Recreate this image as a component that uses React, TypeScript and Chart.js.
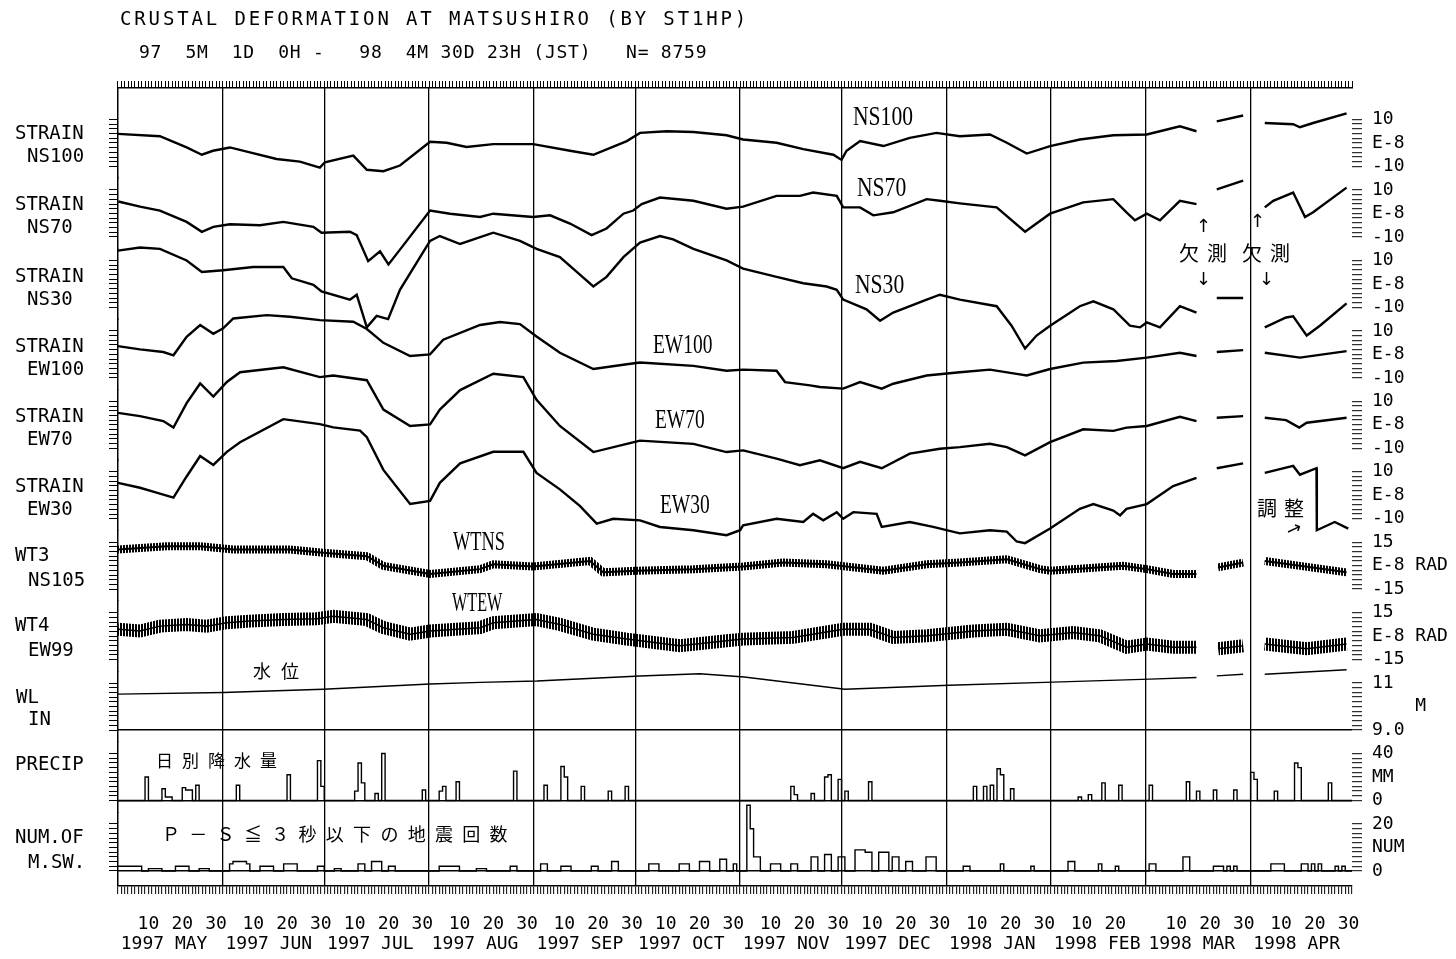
import React, { useEffect, useRef } from 'react';
import { Chart, registerables } from 'chart.js';

Chart.register(...registerables);

// ---------- time axis: days since 1997-05-01 00h (JST) ----------
const monthStartDays = [0, 31, 61, 92, 123, 153, 184, 214, 245, 276, 304, 335, 365];
const monthLabels = ['1997 MAY', '1997 JUN', '1997 JUL', '1997 AUG', '1997 SEP', '1997 OCT', '1997 NOV', '1997 DEC', '1998 JAN', '1998 FEB', '1998 MAR', '1998 APR'];
const dayOfMonthTicks = [10, 20, 30];

// ---------- strain (E-8) ----------
const ns100Days = [0, 12.4, 20.3, 24.8, 28.1, 33.1, 39.0, 46.9, 53.8, 59.7, 61.2, 69.6, 73.6, 78.5, 83.4, 92.3, 97.2, 103.1, 111.0, 122.8, 133.7, 140.6, 150.5, 154.4, 162.3, 170.2, 180.0, 184.9, 194.8, 202.7, 211.6, 214.0, 215.5, 219.5, 226.4, 234.2, 242.1, 249.0, 257.9, 262.9, 268.8, 275.7, 284.5, 294.4, 304.3, 314.1, 319.0, 322, 325.0, 332.8, 336, 339.2, 347.6, 349.6, 353.5, 363.4];
const ns100Vals = [3.9, 2.9, -1.9, -5.0, -3.3, -1.9, -4.0, -6.8, -7.9, -10.5, -8.2, -5.4, -11.4, -12.0, -9.6, 0.5, 0.1, -1.7, -0.5, -0.5, -3.3, -5.0, 0.8, 4.3, 5.0, 4.7, 3.3, 1.5, 0.1, -2.6, -5.0, -7.2, -3.3, 0.8, -1.3, 2.2, 4.3, 2.9, 3.6, 0.1, -4.5, -1.3, 1.5, 3.3, 3.6, 7.1, 5.0, null, 9.2, 11.7, null, 8.5, 8.0, 6.7, 8.5, 12.6];

const ns70Days = [0.1, 6.5, 12.4, 20.3, 24.8, 28.2, 33.1, 42.0, 48.9, 57.8, 60.2, 68.6, 70.6, 74.0, 77.5, 80.0, 83.4, 92.3, 98.2, 107.1, 111.0, 122.8, 127.8, 133.7, 140.1, 144.5, 149.5, 152.4, 154.9, 160.3, 170.2, 180.0, 184.9, 194.8, 201.7, 205.6, 212.6, 214.5, 219.5, 223.4, 229.3, 239.2, 243.1, 249.0, 259.9, 268.3, 275.7, 285.5, 294.4, 298.3, 300.8, 304.3, 308.2, 314.1, 319.0, 322, 325.0, 332.8, 336, 339.2, 341.7, 347.6, 351.1, 353.5, 363.4];
const ns70Vals = [5.1, 2.9, 1.25, -3.6, -7.8, -5.7, -4.6, -5.0, -3.6, -5.7, -8.2, -7.8, -9.2, -20.3, -16.1, -21.7, -15.4, 1.25, -0.1, -1.5, -0.1, -1.5, -0.8, -4.3, -9.2, -6.4, -0.1, 1.25, 4.0, 6.8, 5.4, 2.0, 2.9, 7.5, 7.5, 8.9, 7.5, 2.6, 2.6, -0.8, 0.5, 6.1, 5.4, 4.3, 2.6, -7.8, -0.1, 4.7, 6.1, 0.5, -2.9, -0.1, -2.9, 5.4, 4.0, null, 10.3, 14.0, null, 2.6, 5.4, 8.9, -1.5, 0.5, 11.0];

const ns30Days = [0, 6.5, 12.4, 20.3, 24.8, 31.1, 40.0, 48.9, 51.4, 57.8, 60.2, 68.6, 70.6, 73.6, 76.5, 79.9, 83.4, 92.3, 95.2, 101.2, 111.0, 118.9, 123.8, 130.7, 135.7, 140.6, 144.5, 149.5, 154.4, 160.3, 164.2, 170.2, 180.0, 184.9, 194.8, 202.7, 209.6, 212.6, 214.5, 221.4, 225.4, 229.3, 239.2, 243.1, 249.0, 259.9, 264.3, 268.3, 271.7, 275.7, 284.5, 288.5, 294.4, 299.3, 302.3, 304.3, 308.2, 314.1, 319.0, 322, 325.0, 332.8, 336, 339.2, 345.5, 347.6, 351.6, 355.5, 363.4];
const ns30Vals = [14.2, 15.5, 14.9, 10.0, 5.1, 5.8, 7.2, 7.2, 2.4, -0.4, -3.2, -6.7, -4.6, -18.5, -13.6, -15.0, -2.5, 18.3, 20.4, 17.0, 21.8, 18.3, 14.9, 11.4, 5.1, -1.1, 3.0, 11.4, 17.6, 20.4, 19.0, 14.9, 10.0, 6.5, 3.0, 0.3, -1.1, -2.5, -6.7, -10.8, -15.7, -12.2, -6.7, -4.6, -6.7, -9.5, -17.8, -27.5, -22.0, -17.8, -9.5, -7.4, -10.8, -17.8, -18.5, -16.4, -18.5, -9.5, -12.2, null, -6.0, -6.0, null, -18.5, -14.3, -13.8, -22.0, -17.8, -8.3];

const ew100Days = [0, 6.5, 13.4, 16.4, 20.3, 24.3, 28.2, 31.1, 34.1, 44.0, 50.9, 59.7, 69.6, 73.6, 78.5, 86.4, 92.3, 96.2, 107.1, 113.0, 118.9, 123.8, 130.7, 140.6, 150.5, 154.4, 170.2, 180.0, 184.9, 194.8, 197.3, 204.7, 207.6, 214.5, 219.5, 225.9, 229.3, 239.2, 249.0, 257.9, 265.8, 268.8, 275.7, 285.5, 295.4, 304.3, 314.1, 319.0, 322, 325.0, 332.8, 336, 339.2, 349.6, 363.4];
const ew100Vals = [3.5, 2.1, 1.0, -0.4, 7.5, 12.5, 8.75, 11.1, 15.3, 16.7, 16.0, 14.6, 13.9, 10.8, 4.9, -0.7, 0, 6.25, 12.5, 13.75, 12.9, 7.6, 0.7, -6.25, -4.2, -3.5, -4.9, -7.0, -6.5, -7.0, -11.8, -13.2, -13.9, -14.6, -11.8, -14.6, -12.5, -9.0, -7.6, -6.5, -8.3, -9.0, -6.25, -3.5, -2.8, -1.4, 0.7, -0.7, null, 1.0, 1.8, null, 0.7, -1.4, 1.4];

const ew70Days = [0, 6.5, 13.4, 16.4, 20.3, 24.3, 28.2, 32.2, 36.1, 48.9, 59.7, 63.7, 73.6, 78.5, 86.4, 92.3, 95.2, 101.2, 111.0, 119.9, 123.8, 130.7, 140.6, 150.5, 154.4, 170.2, 180.0, 184.9, 194.8, 201.7, 207.6, 214.5, 219.5, 225.9, 234.2, 243.1, 249.0, 257.9, 262.9, 268.3, 275.7, 285.5, 294.4, 298.3, 304.3, 314.1, 319.0, 322, 325.0, 332.8, 336, 339.2, 345.5, 349.4, 351.6, 363.4];
const ew70Vals = [5.1, 3.7, 1.6, -1.2, 9.25, 17.6, 12.0, 18.25, 22.4, 24.5, 20.3, 21.0, 19.0, 6.5, -0.5, 0.2, 6.5, 14.8, 21.75, 20.3, 10.6, -0.5, -11.6, -8.1, -6.75, -8.1, -11.6, -10.9, -14.4, -17.2, -15.1, -18.5, -15.75, -18.5, -12.3, -10.2, -9.5, -8.1, -9.5, -13.0, -7.4, -1.9, -2.6, -1.2, -0.5, 3.4, 1.6, null, 3.0, 3.7, null, 3.0, 2.0, -1.2, 0.9, 3.0];

const ew30Days = [0, 6.5, 11.4, 16.4, 20.3, 24.3, 28.2, 32.2, 36.1, 48.9, 59.7, 63.7, 71.6, 73.6, 78.5, 86.4, 92.3, 95.2, 101.2, 111.0, 119.9, 123.8, 130.7, 136.6, 141.6, 146.5, 154.4, 160.3, 170.2, 180.0, 184.0, 184.9, 194.8, 202.7, 205.6, 208.6, 212.6, 214.5, 217.5, 224.4, 225.9, 234.2, 241.1, 249.0, 257.9, 262.9, 265.8, 268.3, 275.7, 284.5, 288.5, 294.4, 296.4, 298.3, 304.3, 312.1, 319.0, 322, 325.0, 332.8, 336, 339.2, 347.6, 349.6, 354.5, 354.6, 359.9, 363.9];
const ew30Vals = [5.3, 3.2, 1.1, -1.0, 8.0, 16.7, 12.9, 18.5, 22.6, 32.4, 30.3, 28.9, 27.5, 24.7, 10.8, -3.75, -2.4, 5.3, 13.6, 18.5, 18.5, 9.5, 2.5, -4.5, -12.1, -10.0, -10.7, -13.5, -14.9, -17.0, -14.9, -12.8, -10.0, -11.4, -7.9, -10.7, -7.2, -10.0, -7.2, -7.9, -13.5, -11.4, -13.5, -16.25, -14.9, -15.5, -19.7, -20.4, -14.2, -5.8, -3.75, -6.5, -8.6, -5.8, -3.75, 3.9, 7.4, null, 11.5, 13.6, null, 9.5, 12.5, 8.75, 11.5, -14.9, -11.4, -14.2];

// ---------- tilt (E-8 RAD) ----------
const wt3Days = [0, 14.4, 24.3, 34.1, 50.9, 60.7, 73.6, 78.5, 92.3, 107.1, 111.0, 122.8, 139.6, 143.5, 153.4, 170.2, 184.9, 196.7, 209.6, 226.4, 239.2, 249.0, 262.9, 272.7, 275.7, 297.3, 304.3, 312.1, 319.0, 322, 325.4, 332.8, 336, 339.2, 349.6, 363.4];
const wt3Vals = [10.3, 12.4, 12.4, 10.3, 10.3, 8.25, 6.1, -0.1, -5.3, -2.2, 0.9, -0.5, 3.0, -4.25, -3.25, -2.2, -0.5, 2.0, 0.9, -3.25, 0.9, 2.0, 4.1, -2.2, -3.25, -0.1, -2.2, -5.3, -5.3, null, -1.1, 2.0, null, 3.0, -0.1, -4.25];

const wt4Days = [0, 6.5, 12.4, 20.3, 26.2, 32.2, 39.0, 48.9, 58.8, 63.7, 73.6, 78.5, 86.4, 92.3, 107.1, 111.0, 123.8, 130.7, 140.6, 150.5, 166.2, 180.0, 184.9, 199.7, 214.5, 222.4, 229.3, 239.2, 253.0, 262.9, 272.7, 282.5, 290.4, 298.3, 304.3, 312.1, 319.0, 322, 325.4, 332.8, 336, 339.2, 351.6, 363.4];
const wt4Vals = [4.4, 3.3, 6.4, 7.5, 6.4, 8.6, 9.6, 10.6, 11.1, 12.7, 10.6, 5.4, 1.25, 3.3, 5.4, 8.6, 10.6, 7.5, 1.25, -1.9, -6.1, -2.9, -1.9, -0.8, 4.4, 4.4, -0.8, 0.2, 3.3, 4.4, 0.2, 2.3, 0.2, -7.1, -5.0, -7.1, -7.1, null, -8.1, -6.1, null, -5.0, -8.1, -5.0];

// ---------- water level (M) ----------
const wlDays = [0, 31.1, 60.7, 92.3, 107.1, 123.9, 154.4, 172.1, 185.2, 215.0, 245.8, 276.5, 305.2, 319.0, 322, 325.0, 332.8, 336, 339.2, 363.4];
const wlVals = [10.53, 10.60, 10.74, 10.96, 11.03, 11.09, 11.30, 11.40, 11.26, 10.74, 10.91, 11.04, 11.17, 11.24, null, 11.31, 11.38, null, 11.38, 11.57];

// ---------- daily precipitation (MM), days with rain ----------
const precipDays = [8, 13, 14, 15, 19, 20, 21, 23, 35, 50, 59, 60, 70, 71, 72, 76, 78, 90, 95, 96, 100, 117, 126, 131, 132, 137, 145, 150, 199, 200, 205, 209, 210, 213, 215, 222, 253, 256, 258, 260, 261, 264, 284, 287, 291, 296, 305, 316, 319, 324, 330, 335, 336, 342, 348, 349, 358];
const precipMM = [20, 10, 3, 3, 11, 9, 9, 13, 13, 22, 34, 12, 8, 32, 15, 6, 40, 9, 8, 12, 16, 25, 13, 29, 20, 12, 8, 12, 12, 5, 6, 20, 22, 18, 8, 16, 12, 12, 13, 27, 22, 10, 3, 5, 15, 13, 13, 16, 8, 9, 9, 24, 18, 8, 32, 28, 15];

// ---------- daily number of micro earthquakes (S-P <= 3 s) ----------
const quakeDays = [0, 1, 2, 3, 4, 5, 6, 9, 10, 11, 12, 17, 18, 19, 20, 24, 25, 26, 33, 34, 35, 36, 37, 38, 42, 43, 44, 45, 49, 50, 51, 52, 59, 60, 64, 65, 71, 72, 75, 76, 77, 80, 81, 95, 96, 97, 98, 99, 100, 106, 107, 108, 116, 117, 125, 126, 131, 132, 133, 140, 141, 146, 147, 157, 158, 159, 166, 167, 168, 172, 173, 174, 178, 179, 182, 186, 187, 188, 189, 193, 194, 195, 199, 200, 205, 206, 209, 210, 213, 214, 218, 219, 220, 221, 222, 225, 226, 227, 229, 230, 233, 234, 239, 240, 241, 250, 251, 261, 270, 281, 282, 290, 295, 305, 306, 315, 316, 324, 325, 326, 328, 330, 341, 342, 343, 344, 350, 351, 353, 355, 360, 362];
const quakeCounts = [2, 2, 2, 2, 2, 2, 2, 1, 1, 1, 1, 2, 2, 2, 2, 1, 1, 1, 3, 4, 4, 4, 4, 3, 2, 2, 2, 2, 3, 3, 3, 3, 2, 2, 1, 1, 3, 3, 4, 4, 4, 2, 2, 2, 2, 2, 2, 2, 2, 1, 1, 1, 2, 2, 3, 3, 2, 2, 2, 2, 2, 4, 4, 3, 3, 3, 3, 3, 3, 4, 4, 4, 5, 5, 3, 28, 18, 6, 6, 3, 3, 3, 3, 3, 6, 6, 7, 7, 6, 6, 9, 9, 9, 8, 8, 8, 8, 8, 6, 6, 4, 4, 6, 6, 6, 2, 2, 3, 2, 4, 4, 3, 2, 3, 3, 6, 6, 2, 2, 2, 2, 2, 3, 3, 3, 3, 3, 3, 3, 3, 2, 2];

// ---------- panel geometry (right-hand scale annotations) ----------
type Panel = { id: string; min: number; max: number; weight: number; tickFrom: number; tickTo: number; tickStep: number; labels: [number, string][]; base?: number };
const panels: Panel[] = [
  { id: 'p0', min: -15, max: 23.4, weight: 90.25, tickFrom: -10, tickTo: 10, tickStep: 2, labels: [[10, '10'], [0, 'E-8'], [-10, '-10']] },
  { id: 'p1', min: -15, max: 15, weight: 70.45, tickFrom: -10, tickTo: 10, tickStep: 2, labels: [[10, '10'], [0, 'E-8'], [-10, '-10']] },
  { id: 'p2', min: -15, max: 15, weight: 70.45, tickFrom: -10, tickTo: 10, tickStep: 2, labels: [[10, '10'], [0, 'E-8'], [-10, '-10']] },
  { id: 'p3', min: -15, max: 15, weight: 70.45, tickFrom: -10, tickTo: 10, tickStep: 2, labels: [[10, '10'], [0, 'E-8'], [-10, '-10']] },
  { id: 'p4', min: -15, max: 15, weight: 70.45, tickFrom: -10, tickTo: 10, tickStep: 2, labels: [[10, '10'], [0, 'E-8'], [-10, '-10']] },
  { id: 'p5', min: -15, max: 15, weight: 70.45, tickFrom: -10, tickTo: 10, tickStep: 2, labels: [[10, '10'], [0, 'E-8'], [-10, '-10']] },
  { id: 'p6', min: -22.5, max: 22.5, weight: 70.45, tickFrom: -15, tickTo: 15, tickStep: 3, labels: [[15, '15'], [0, 'E-8 RAD'], [-15, '-15']] },
  { id: 'p7', min: -22.5, max: 22.5, weight: 70.45, tickFrom: -15, tickTo: 15, tickStep: 3, labels: [[15, '15'], [0, 'E-8 RAD'], [-15, '-15']] },
  { id: 'p8', min: 8.5, max: 11.5, weight: 70.45, tickFrom: 9, tickTo: 11, tickStep: 0.2, labels: [[11, '11'], [10, '    M'], [9, '9.0']], base: 9 },
  { id: 'p9', min: -10, max: 50, weight: 70.45, tickFrom: 0, tickTo: 40, tickStep: 4, labels: [[40, '40'], [20, 'MM'], [0, '0']], base: 0 },
  { id: 'p10', min: -6.4, max: 25, weight: 73.75, tickFrom: 0, tickTo: 20, tickStep: 2, labels: [[20, '20'], [10, 'NUM'], [0, '0']], base: 0 },
];

const MONO = '"DejaVu Sans Mono", "Liberation Mono", monospace';
const SERIF = '"Liberation Serif", "DejaVu Serif", serif';
const CJK = '"Noto Sans CJK JP", "Noto Sans CJK SC", sans-serif';

type Txt = { t: string; x: number; y: number; size: number; font: string; ls?: number; sx?: number; rot?: number };
const texts: Txt[] = [
  { t: 'CRUSTAL DEFORMATION AT MATSUSHIRO (BY ST1HP)', x: 120, y: 18.5, size: 19, font: MONO, ls: 2.86 },
  { t: '97  5M  1D  0H -   98  4M 30D 23H (JST)   N= 8759', x: 139, y: 52, size: 18, font: MONO, ls: 0.76 },
  { t: 'STRAIN', x: 15, y: 132.5, size: 19, font: MONO },
  { t: 'NS100', x: 27, y: 155.5, size: 19, font: MONO },
  { t: 'STRAIN', x: 15, y: 203.5, size: 19, font: MONO },
  { t: 'NS70', x: 27, y: 226.5, size: 19, font: MONO },
  { t: 'STRAIN', x: 15, y: 275, size: 19, font: MONO },
  { t: 'NS30', x: 27, y: 298.5, size: 19, font: MONO },
  { t: 'STRAIN', x: 15, y: 345, size: 19, font: MONO },
  { t: 'EW100', x: 27, y: 368.5, size: 19, font: MONO },
  { t: 'STRAIN', x: 15, y: 415, size: 19, font: MONO },
  { t: 'EW70', x: 27, y: 438.5, size: 19, font: MONO },
  { t: 'STRAIN', x: 15, y: 485, size: 19, font: MONO },
  { t: 'EW30', x: 27, y: 508.5, size: 19, font: MONO },
  { t: 'WT3', x: 15, y: 554.5, size: 19, font: MONO },
  { t: 'NS105', x: 28, y: 579, size: 19, font: MONO },
  { t: 'WT4', x: 15, y: 624, size: 19, font: MONO },
  { t: 'EW99', x: 28, y: 649, size: 19, font: MONO },
  { t: 'WL', x: 16, y: 696, size: 19, font: MONO },
  { t: 'IN', x: 28, y: 718, size: 19, font: MONO },
  { t: 'PRECIP', x: 15, y: 763.5, size: 19, font: MONO },
  { t: 'NUM.OF', x: 15, y: 836, size: 19, font: MONO },
  { t: 'M.SW.', x: 28, y: 861, size: 19, font: MONO },
  { t: 'NS100', x: 853, y: 116, size: 27, font: SERIF, sx: 0.8 },
  { t: 'NS70', x: 857, y: 187.5, size: 27, font: SERIF, sx: 0.8 },
  { t: 'NS30', x: 855, y: 284, size: 27, font: SERIF, sx: 0.8 },
  { t: 'EW100', x: 653, y: 344, size: 27, font: SERIF, sx: 0.72 },
  { t: 'EW70', x: 655, y: 419.5, size: 27, font: SERIF, sx: 0.72 },
  { t: 'EW30', x: 660, y: 504, size: 27, font: SERIF, sx: 0.72 },
  { t: 'WTNS', x: 453, y: 541, size: 27, font: SERIF, sx: 0.68 },
  { t: 'WTEW', x: 452, y: 602.5, size: 27, font: SERIF, sx: 0.6 },
  { t: '水位', x: 253, y: 669.5, size: 18, font: CJK, ls: 10 },
  { t: '日別降水量', x: 156, y: 759.5, size: 17, font: CJK, ls: 9 },
  { t: 'Ｐ－Ｓ≦３秒以下の地震回数', x: 162, y: 833, size: 18, font: CJK, ls: 9.3 },
  { t: '欠測', x: 1179, y: 253, size: 20, font: CJK, ls: 8 },
  { t: '欠測', x: 1242, y: 253, size: 20, font: CJK, ls: 8 },
  { t: '↑', x: 1196, y: 226, size: 18, font: '"DejaVu Sans", sans-serif' },
  { t: '↑', x: 1250, y: 221, size: 18, font: '"DejaVu Sans", sans-serif' },
  { t: '↓', x: 1196, y: 279, size: 18, font: '"DejaVu Sans", sans-serif' },
  { t: '↓', x: 1259, y: 279, size: 18, font: '"DejaVu Sans", sans-serif' },
  { t: '調整', x: 1257, y: 508, size: 20, font: CJK, ls: 7 },
  { t: '→', x: 1287, y: 532, size: 18, font: '"DejaVu Sans", sans-serif', rot: -25 },
];

const pts = (days: number[], vals: (number | null)[]) => days.map((d, i) => ({ x: d, y: vals[i] }));

const dailyTable = (days: number[], vals: number[]) => {
  const table: { x: number; y: number }[] = [];
  for (let d = 0; d <= 365; d++) table.push({ x: d, y: 0 });
  days.forEach((d, i) => { table[d].y = vals[i]; });
  table[365].y = table[364].y;
  return table;
};

export default function App() {
  const ref = useRef<HTMLCanvasElement | null>(null);

  useEffect(() => {
    const canvas = ref.current;
    if (!canvas) return;

    const pc = document.createElement('canvas');
    pc.width = 3; pc.height = 1;
    const pg = pc.getContext('2d')!;
    pg.fillStyle = '#000';
    pg.fillRect(0, 0, 2, 1);
    const hatch = pg.createPattern(pc, 'repeat');

    const strainStyle = { borderColor: '#000', borderWidth: 2.4, pointRadius: 0, tension: 0, spanGaps: false, fill: false, clip: false };

    const datasets: any[] = [
      { data: pts(ns100Days, ns100Vals), yAxisID: 'p0', ...strainStyle },
      { data: pts(ns70Days, ns70Vals), yAxisID: 'p1', ...strainStyle },
      { data: pts(ns30Days, ns30Vals), yAxisID: 'p2', ...strainStyle },
      { data: pts(ew100Days, ew100Vals), yAxisID: 'p3', ...strainStyle },
      { data: pts(ew70Days, ew70Vals), yAxisID: 'p4', ...strainStyle },
      { data: pts(ew30Days, ew30Vals), yAxisID: 'p5', ...strainStyle },
      { data: pts(wt3Days, wt3Vals), yAxisID: 'p6', ...strainStyle, borderColor: hatch, borderWidth: 8 },
      { data: pts(wt3Days, wt3Vals), yAxisID: 'p6', ...strainStyle, borderWidth: 2 },
      { data: pts(wt4Days, wt4Vals), yAxisID: 'p7', ...strainStyle, borderColor: hatch, borderWidth: 13 },
      { data: pts(wt4Days, wt4Vals), yAxisID: 'p7', ...strainStyle, borderWidth: 1.5 },
      { data: pts(wlDays, wlVals), yAxisID: 'p8', ...strainStyle, borderWidth: 1.4 },
      { data: dailyTable(precipDays, precipMM), yAxisID: 'p9', ...strainStyle, borderWidth: 1.4, stepped: 'before' },
      { data: dailyTable(quakeDays, quakeCounts), yAxisID: 'p10', ...strainStyle, borderWidth: 1.4, stepped: 'before' },
    ].map((d) => ({ ...d, xAxisID: 'x', type: 'line' }));

    const dailyTicks: { value: number }[] = [];
    for (let d = 0; d <= 365; d++) dailyTicks.push({ value: d });
    const gridMonths = monthStartDays.slice(1, -1);

    const dayTicks: { value: number; label: string }[] = [];
    monthLabels.forEach((_, m) => {
      const len = monthStartDays[m + 1] - monthStartDays[m];
      dayOfMonthTicks.forEach((n) => {
        if (n <= len) dayTicks.push({ value: monthStartDays[m] + n - 1, label: String(n) });
      });
    });
    const monthTicks = monthLabels.map((l, m) => ({ value: monthStartDays[m] + 0.8, label: l }));

    const tickFont = { family: MONO, size: 18 };

    const scales: any = {};
    panels.forEach((p) => {
      const vals: number[] = [];
      const n = Math.round((p.tickTo - p.tickFrom) / p.tickStep);
      for (let k = 0; k <= n; k++) vals.push(+(p.tickFrom + k * p.tickStep).toFixed(4));
      scales[p.id] = {
        type: 'linear', position: 'right', stack: 'R', stackWeight: p.weight,
        min: p.min, max: p.max,
        afterBuildTicks: (s: any) => { s.ticks = vals.map((v) => ({ value: v })); },
        afterFit: (s: any) => { s.width = 104; },
        ticks: {
          autoSkip: false, padding: 10, color: '#000', font: tickFont,
          callback: (v: number) => { const f = p.labels.find((l) => Math.abs(l[0] - v) < 1e-6); return f ? f[1] : ''; },
        },
        grid: {
          drawOnChartArea: true, drawTicks: true, tickLength: 10, tickColor: '#000', tickWidth: 1,
          lineWidth: 1.4,
          color: (c: any) => (p.base !== undefined && c.tick && Math.abs(c.tick.value - p.base) < 1e-6 ? '#000' : 'rgba(0,0,0,0)'),
        },
        border: { display: false },
      };
    });
    [...panels].reverse().forEach((p) => {
      const vals: number[] = [];
      const n = Math.round((p.tickTo - p.tickFrom) / p.tickStep);
      for (let k = 0; k <= n; k++) vals.push(+(p.tickFrom + k * p.tickStep).toFixed(4));
      scales['L' + p.id] = {
        type: 'linear', position: 'left', stack: 'L', stackWeight: p.weight,
        min: p.min, max: p.max,
        afterBuildTicks: (s: any) => { s.ticks = vals.map((v) => ({ value: v })); },
        afterFit: (s: any) => { s.width = 118; },
        ticks: { autoSkip: false, padding: 0, font: { size: 2 }, callback: () => '' },
        grid: { drawOnChartArea: false, drawTicks: true, tickLength: 9, tickColor: '#000', tickWidth: 1 },
        border: { display: true, color: '#000', width: 1.5 },
      };
    });
    scales.x = {
      type: 'linear', position: 'bottom', min: 0, max: 365,
      afterBuildTicks: (s: any) => { s.ticks = dailyTicks.map((t) => ({ value: t.value })); },
      afterFit: (s: any) => { s.height = 20; },
      ticks: { autoSkip: false, maxRotation: 0, font: { size: 2 }, padding: 0, callback: () => '' },
      grid: {
        drawOnChartArea: true, drawTicks: true, tickLength: 8, tickColor: '#000', tickWidth: 1,
        lineWidth: 1.3,
        color: (c: any) => (c.tick && gridMonths.includes(c.tick.value) ? '#000' : 'rgba(0,0,0,0)'),
      },
      border: { display: true, color: '#000', width: 1.5 },
    };
    scales.xd = {
      type: 'linear', position: 'bottom', min: 0, max: 365,
      afterBuildTicks: (s: any) => { s.ticks = dayTicks.map((t) => ({ value: t.value })); },
      afterFit: (s: any) => { s.height = 26; },
      ticks: { autoSkip: false, maxRotation: 0, minRotation: 0, padding: 8, color: '#000', font: tickFont, callback: (_v: any, i: number) => dayTicks[i].label },
      grid: { display: false, drawTicks: false },
      border: { display: false },
    };
    scales.xm = {
      type: 'linear', position: 'bottom', min: 0, max: 365,
      afterBuildTicks: (s: any) => { s.ticks = monthTicks.map((t) => ({ value: t.value })); },
      afterFit: (s: any) => { s.height = 27; },
      ticks: { autoSkip: false, maxRotation: 0, minRotation: 0, align: 'start', padding: 2, color: '#000', font: tickFont, callback: (_v: any, i: number) => monthTicks[i].label },
      grid: { display: false, drawTicks: false },
      border: { display: false },
    };
    scales.xt = {
      type: 'linear', position: 'top', min: 0, max: 365,
      afterBuildTicks: (s: any) => { s.ticks = dailyTicks.map((t) => ({ value: t.value })); },
      afterFit: (s: any) => { s.height = 88; },
      ticks: { autoSkip: false, maxRotation: 0, font: { size: 2 }, padding: 0, callback: () => '' },
      grid: { drawOnChartArea: false, drawTicks: true, tickLength: 7, tickColor: '#000', tickWidth: 1 },
      border: { display: true, color: '#000', width: 1.5 },
    };

    const chart = new Chart(canvas, {
      type: 'line',
      data: { datasets },
      options: {
        animation: false,
        responsive: false,
        devicePixelRatio: 1,
        events: [],
        layout: { padding: 0 },
        plugins: { legend: { display: false }, tooltip: { enabled: false }, title: { display: false } },
        scales,
      } as any,
    });
    return () => chart.destroy();
  }, []);

  return (
    <div style={{ position: 'absolute', left: 0, top: 0, width: 1456, height: 959, background: '#fff', overflow: 'hidden' }}>
      <canvas ref={ref} width={1456} height={959} style={{ position: 'absolute', left: 0, top: 0, width: 1456, height: 959 }} />
      {texts.map((t, i) => (
        <div
          key={i}
          style={{
            position: 'absolute', left: t.x, top: t.y - t.size / 2, height: t.size, lineHeight: `${t.size}px`,
            fontSize: t.size, fontFamily: t.font, letterSpacing: t.ls ? `${t.ls}px` : undefined,
            whiteSpace: 'pre', color: '#000',
            transform: t.sx ? `scaleX(${t.sx})` : t.rot ? `rotate(${t.rot}deg)` : undefined,
            transformOrigin: 'left center',
          }}
        >
          {t.t}
        </div>
      ))}
    </div>
  );
}
